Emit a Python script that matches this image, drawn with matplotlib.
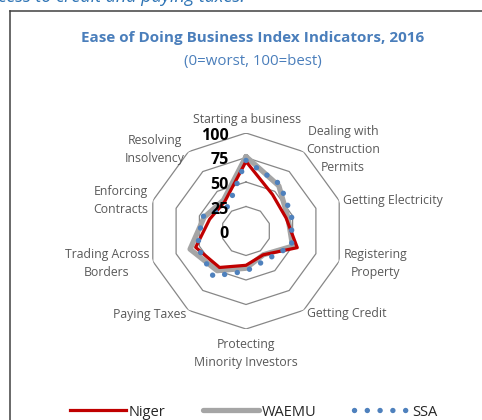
import matplotlib
matplotlib.use('Agg')
import numpy as np
import matplotlib.pyplot as plt
from matplotlib.lines import Line2D

categories = ["Starting a business", "Dealing with\nConstruction\nPermits", "Getting Electricity",
              "Registering\nProperty", "Getting Credit", "Protecting\nMinority Investors",
              "Paying Taxes", "Trading Across\nBorders", "Enforcing\nContracts", "Resolving\nInsolvency"]
niger = [71, 46, 43, 55, 30, 35, 46, 54, 39, 37]
waemu = [76, 57, 45, 50, 30, 38, 50, 60, 45, 39]
ssa = [72, 59, 49, 49, 36, 41, 57, 52, 47, 31]
ticks = [0, 25, 50, 75, 100]

plt.rcParams['font.family'] = ['Open Sans', 'DejaVu Sans']

W, H = 482, 420
fig = plt.figure(figsize=(W / 100, H / 100), dpi=100)
fig.patch.set_facecolor('white')

cx, cy, R = 246, 231, 98
ax = fig.add_axes([(cx - R) / W, (H - cy - R) / H, 2 * R / W, 2 * R / H], projection='polar')
ax.set_theta_offset(np.pi / 2)
ax.set_theta_direction(-1)
ax.set_ylim(0, 100)
ax.axis('off')

N = len(categories)
theta = np.arange(N) * 2 * np.pi / N
th_c = np.append(theta, theta[0])

def close(v):
    return list(v) + [v[0]]

for t in ticks[1:]:
    ax.plot(th_c, [t] * (N + 1), color='#878787', lw=0.9, zorder=1)

l_w, = ax.plot(th_c, close(waemu), color='#A5A5A5', lw=3.8, solid_joinstyle='round',
               solid_capstyle='round', zorder=2, label='WAEMU')
l_n, = ax.plot(th_c, close(niger), color='#C00000', lw=2.3, solid_joinstyle='round',
               zorder=3, label='Niger')
l_s, = ax.plot(th_c, close(ssa), color='#4F81BD', lw=3.9, linestyle=(0, (0.01, 2.35)),
               dash_capstyle='round', zorder=4, label='SSA')

for v in ticks:
    ax.annotate(str(v), xy=(0, v), xytext=(-17, -3), textcoords='offset pixels',
                ha='right', va='center', fontsize=11.5, fontweight='bold', color='black',
                zorder=6, annotation_clip=False)

label_pos = [
    ((0.7, 13), 'center'),
    ((2.4, 2), 'left'),
    ((4, 0.7), 'left'),
    ((4.8, -2.5), 'left'),
    ((3, -3), 'left'),
    ((0, -24.5), 'center'),
    ((-2.4, -4), 'right'),
    ((-3.5, -2.5), 'right'),
    ((-4.5, 0.7), 'right'),
    ((-3.4, 2), 'right'),
]
for k, lab in enumerate(categories):
    off, ha = label_pos[k]
    ax.annotate(lab, xy=(theta[k], 100), xytext=off, textcoords='offset pixels',
                ha=ha, va='center', multialignment='center', fontsize=8.8,
                color='#595959', linespacing=1.5, annotation_clip=False)

fig.text(252.5 / W, 1 - 37.7 / H, "Ease of Doing Business Index Indicators, 2016",
         ha='center', va='center', fontsize=11, fontweight='bold', color='#4A7EBB')
fig.text(252.5 / W, 1 - 61 / H, "(0=worst, 100=best)",
         ha='center', va='center', fontsize=10.8, color='#4A7EBB')

fig.text(245 / W, 1 - 2.5 / H, "access to credit and paying taxes.", ha='right',
         va='baseline', fontsize=13, style='italic', color='#2E74B5')

fig.add_artist(Line2D([10 / W, 10 / W], [0, 1 - 10.5 / H], transform=fig.transFigure,
                      color='#404040', lw=1.1))
fig.add_artist(Line2D([10 / W, 1], [1 - 10.5 / H, 1 - 10.5 / H], transform=fig.transFigure,
                      color='#404040', lw=1.1))

fig.legend(handles=[l_n, l_w, l_s], labels=['Niger', 'WAEMU', 'SSA'], loc='center',
           bbox_to_anchor=(254 / W, 1 - 412 / H), ncol=3, frameon=False,
           handlelength=3.8, handletextpad=0.2, columnspacing=2.6, fontsize=10.5,
           labelcolor='#262626')

fig.savefig('out.png', dpi=100)
